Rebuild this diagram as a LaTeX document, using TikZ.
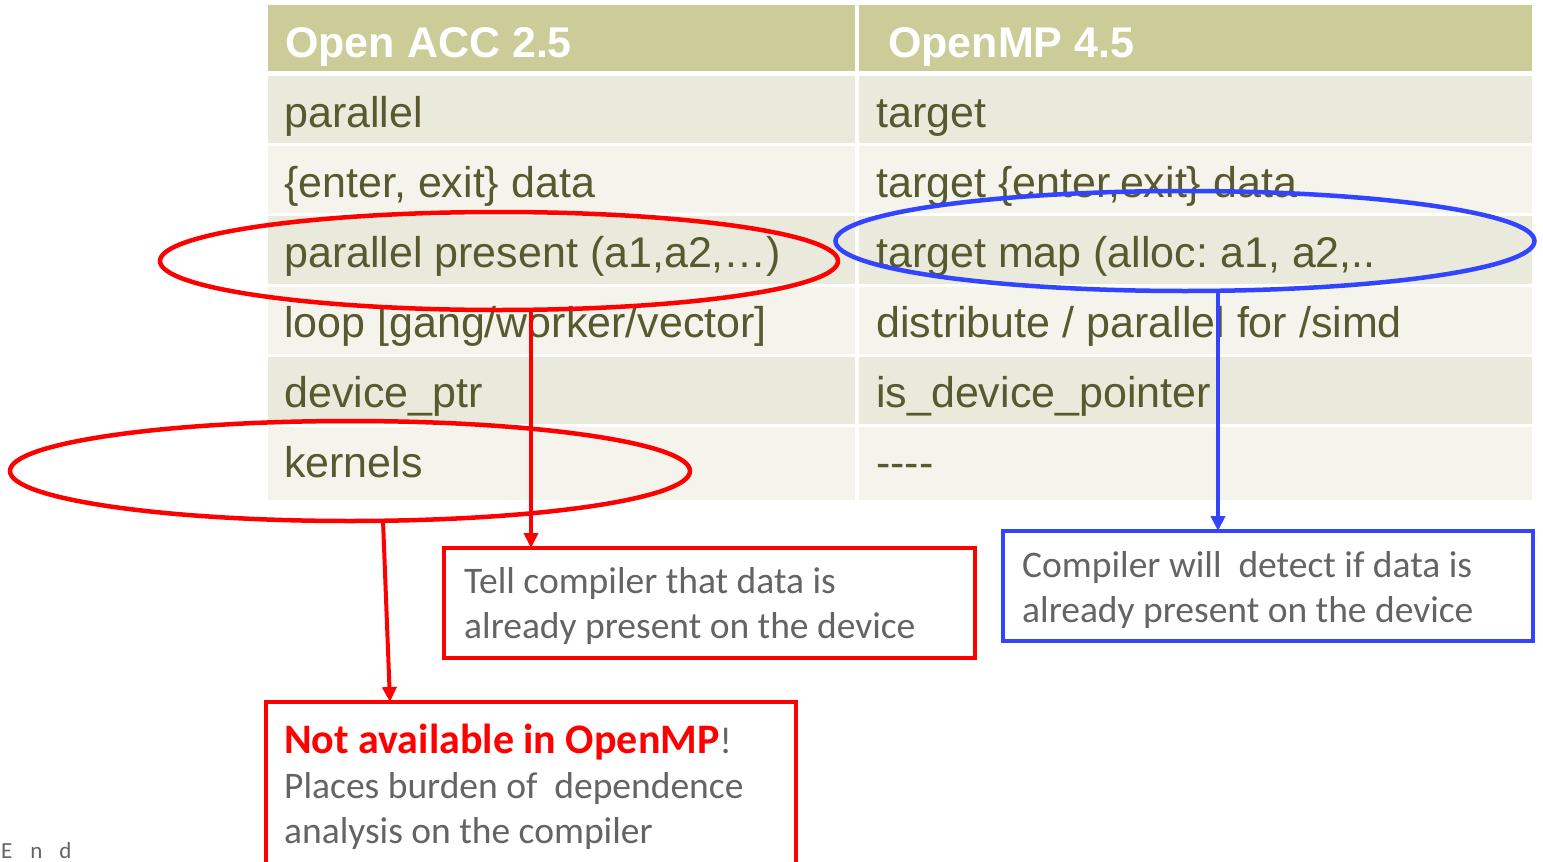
\documentclass[tikz,border=0pt]{standalone}
\usepackage{fontspec}
\setmainfont{Liberation Sans}
\newfontfamily\calfont{Carlito}
\usetikzlibrary{shapes.geometric,arrows.meta}
\frenchspacing
\definecolor{hdr}{RGB}{204,204,153}
\definecolor{rowA}{RGB}{233,233,220}
\definecolor{rowB}{RGB}{244,244,236}
\definecolor{txt}{RGB}{89,89,48}
\definecolor{gtxt}{RGB}{100,100,100}
\definecolor{myred}{RGB}{255,0,0}
\definecolor{myblue}{RGB}{51,68,255}
\tikzset{
  cellbg/.style={draw=none,inner sep=0,outer sep=0,anchor=north west},
  celltxt/.style={anchor=base west,inner sep=0,text=txt,font=\fontsize{43}{50}\selectfont},
  hdrtxt/.style={anchor=base west,inner sep=0,text=white,font=\fontsize{43}{50}\selectfont\bfseries},
  boxtxt/.style={anchor=base west,inner sep=0,text=gtxt,font=\calfont\fontsize{37.5}{45}\selectfont},
  ellred/.style={draw=myred,line width=4.5pt,ellipse,inner sep=0},
  ellblue/.style={draw=myblue,line width=4.5pt,ellipse,inner sep=0},
  redbox/.style={draw=myred,line width=4pt,inner sep=0,outer sep=0,anchor=north west},
  bluebox/.style={draw=myblue,line width=4pt,inner sep=0,outer sep=0,anchor=north west},
  redarrow/.style={draw=myred,line width=4pt,-{Triangle[length=15pt,width=14pt]}},
  bluearrow/.style={draw=myblue,line width=4pt,-{Triangle[length=15pt,width=14pt]}}
}
\begin{document}
\begin{tikzpicture}[x=1pt,y=-1pt]
\useasboundingbox (0,0) rectangle (1543,862);
\fill[white] (0,0) rectangle (1543,862);
% table backgrounds
\node[cellbg,fill=hdr,minimum width=587,minimum height=66] (h1) at (268,5) {};
\node[cellbg,fill=hdr,minimum width=673,minimum height=66] (h2) at (859,5) {};
\node[cellbg,fill=rowA,minimum width=587,minimum height=67] (c1a) at (268,76) {};
\node[cellbg,fill=rowA,minimum width=673,minimum height=67] (c1b) at (859,76) {};
\node[cellbg,fill=rowB,minimum width=587,minimum height=67] (c2a) at (268,146) {};
\node[cellbg,fill=rowB,minimum width=673,minimum height=67] (c2b) at (859,146) {};
\node[cellbg,fill=rowA,minimum width=587,minimum height=68] (c3a) at (268,216) {};
\node[cellbg,fill=rowA,minimum width=673,minimum height=68] (c3b) at (859,216) {};
\node[cellbg,fill=rowB,minimum width=587,minimum height=67] (c4a) at (268,287) {};
\node[cellbg,fill=rowB,minimum width=673,minimum height=67] (c4b) at (859,287) {};
\node[cellbg,fill=rowA,minimum width=587,minimum height=67] (c5a) at (268,357) {};
\node[cellbg,fill=rowA,minimum width=673,minimum height=67] (c5b) at (859,357) {};
\node[cellbg,fill=rowB,minimum width=587,minimum height=73] (c6a) at (268,427) {};
\node[cellbg,fill=rowB,minimum width=673,minimum height=73] (c6b) at (859,427) {};
% table texts
\node[hdrtxt] (th1) at (285,57) {Open ACC 2.5};
\node[hdrtxt] (th2) at (888,57) {OpenMP 4.5};
\node[celltxt] (t1a) at (284,127) {parallel};
\node[celltxt] (t1b) at (876,127) {target};
\node[celltxt] (t2a) at (284,197) {\{enter, exit\} data};
\node[celltxt] (t2b) at (876,197) {target \{enter,exit\} data};
\node[celltxt] (t3a) at (284,267) {parallel present (a1,a2,\dots)};
\node[celltxt] (t3b) at (876,267) {target map (alloc: a1, a2,..};
\node[celltxt] (t4a) at (284,337) {loop [gang/worker/vector]};
\node[celltxt] (t4b) at (876,337) {distribute / parallel for /simd};
\node[celltxt] (t5a) at (284,407) {device\_ptr};
\node[celltxt] (t5b) at (876,407) {is\_device\_pointer};
\node[celltxt] (t6a) at (284,477) {kernels};
\node[celltxt] (t6b) at (876,477) {-{}-{}-{}-};
% ellipses
\node[ellred,minimum width=678,minimum height=98] (e1) at (499,261) {};
\node[ellred,minimum width=680,minimum height=100] (e2) at (350,471) {};
\node[ellblue,minimum width=699,minimum height=100] (e3) at (1185,241) {};
% boxes
\node[redbox,minimum width=531,minimum height=110] (b1) at (444,548) {};
\node[redbox,minimum width=530,minimum height=180] (b2) at (266,702) {};
\node[bluebox,minimum width=530,minimum height=110] (b3) at (1003,531) {};
\node[boxtxt] (b1l1) at (464,593) {Tell compiler that data is};
\node[boxtxt] (b1l2) at (464,638) {already present on the device};
\node[boxtxt] (b2l1) at (284,753) {{\fontsize{42}{45}\selectfont\bfseries\color{myred}Not available in OpenMP}!};
\node[boxtxt] (b2l2) at (284,798) {Places burden of~ dependence};
\node[boxtxt] (b2l3) at (284,843) {analysis on the compiler};
\node[boxtxt] (b3l1) at (1022,577) {Compiler will~ detect if data is};
\node[boxtxt] (b3l2) at (1022,622) {already present on the device};
% arrows
\coordinate (a1e) at (531,548);
\coordinate (a2s) at (383,520);
\coordinate (a2e) at (390,702);
\coordinate (a3e) at (1218,531);
\draw[redarrow] (e1.south -| a1e) -- (a1e);
\draw[redarrow] (a2s) -- (a2e);
\draw[bluearrow] (e3.south -| a3e) -- (a3e);
% footer
\node[anchor=base west,inner sep=0,text=gtxt,font=\calfont\fontsize{23}{30}\selectfont] (endt) at (1,858) {E\hspace{18pt}n\hspace{17pt}d};
\end{tikzpicture}
\end{document}
